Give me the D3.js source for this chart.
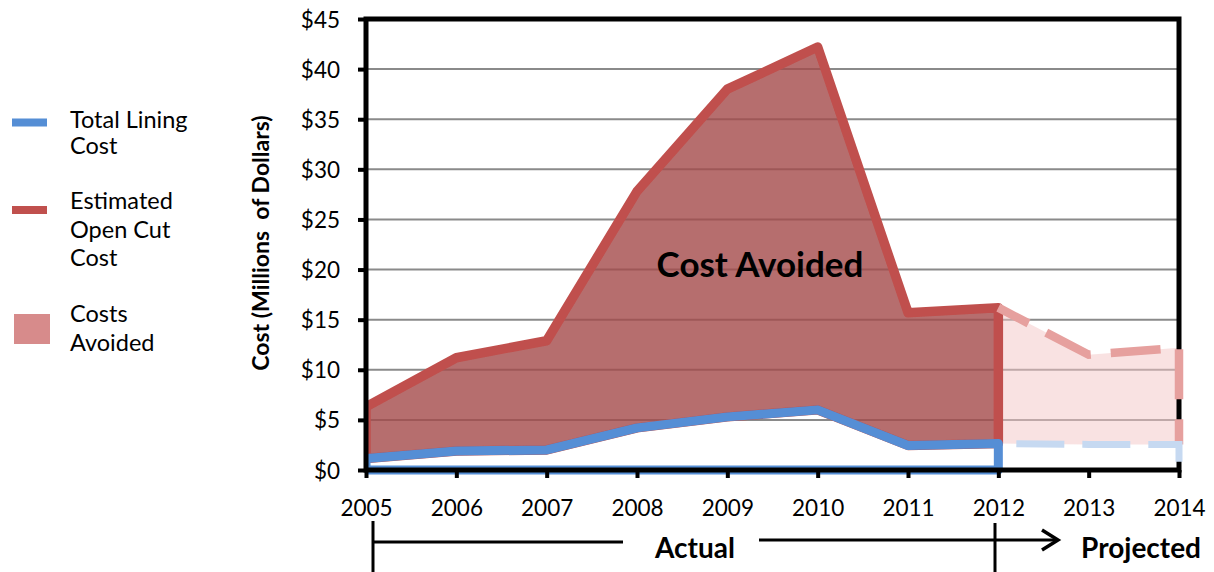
<!DOCTYPE html>
<html>
<head>
<meta charset="utf-8">
<script src="https://cdn.jsdelivr.net/npm/d3@7"></script>
<style>
  html, body { margin: 0; padding: 0; background: #fff; }
  svg { display: block; }
  text { font-family: Lato, "Open Sans", sans-serif; fill: #000; }
</style>
</head>
<body>
<svg id="chart" width="1214" height="572"></svg>
<script>
// Actual years (solid) and projected years (dashed)
const actualYears = [2005, 2006, 2007, 2008, 2009, 2010, 2011, 2012];
const liningActual = [1.15, 1.9, 2.0, 4.2, 5.3, 6.0, 2.45, 2.65];
const openCutActual = [6.3, 11.2, 12.9, 27.8, 38.0, 42.2, 15.7, 16.2];

const projectedYears = [2012, 2013, 2014];
const liningProjected = [2.65, 2.55, 2.55];
const openCutProjected = [16.2, 11.5, 12.2];

const yTicks = [0, 5, 10, 15, 20, 25, 30, 35, 40, 45];
const xTicks = [2005, 2006, 2007, 2008, 2009, 2010, 2011, 2012, 2013, 2014];

const legendItems = [
  { kind: "line", color: "#558ED5", lines: ["Total Lining", "Cost"] },
  { kind: "line", color: "#C0504D", lines: ["Estimated", "Open Cut", "Cost"] },
  { kind: "box", color: "#D78B8B", lines: ["Costs", "Avoided"] }
];

const svg = d3.select("#chart");

const plot = { left: 366, right: 1179, top: 19, bottom: 470 };
const x = d3.scaleLinear().domain([2005, 2014]).range([plot.left, plot.right]);
const y = d3.scaleLinear().domain([0, 45]).range([plot.bottom, plot.top]);

const defs = svg.append("defs");
// Clip for the actual series so nothing spills left of the value axis
defs.append("clipPath").attr("id", "plotClip")
  .append("rect")
  .attr("x", plot.left).attr("y", plot.top - 10)
  .attr("width", plot.right - plot.left + 10)
  .attr("height", plot.bottom - plot.top + 20);

// soft edge on the red outlines
const soft = defs.append("filter").attr("id", "soft")
  .attr("x", "-5%").attr("y", "-5%").attr("width", "110%").attr("height", "110%");
soft.append("feGaussianBlur").attr("stdDeviation", 0.6);

// Horizontal gridlines
svg.append("g")
  .selectAll("line")
  .data(yTicks.filter(v => v > 0 && v < 45))
  .join("line")
  .attr("x1", plot.left).attr("x2", plot.right)
  .attr("y1", d => y(d)).attr("y2", d => y(d))
  .attr("stroke", "#8a8a8a").attr("stroke-width", 2);

// Polygon between a lower and an upper series
function band(years, lower, upper) {
  const top = years.map((yr, i) => [x(yr), y(upper[i])]);
  const bottom = years.map((yr, i) => [x(yr), y(lower[i])]).reverse();
  return d3.line()(top.concat(bottom)) + "Z";
}
// Upper edge of a band plus its closing drop at the last year
function upperEdge(years, lower, upper) {
  const pts = years.map((yr, i) => [x(yr), y(upper[i])]);
  const n = years.length - 1;
  pts.push([x(years[n]), y(lower[n])]);
  return d3.line()(pts);
}
const zeros = n => new Array(n).fill(0);

// Projected band (light)
svg.append("path")
  .attr("d", band(projectedYears, liningProjected, openCutProjected))
  .attr("fill", "#F4C6C6").attr("fill-opacity", 0.5)
  .attr("stroke", "none");

// Actual cost-avoided band
const actualG = svg.append("g").attr("clip-path", "url(#plotClip)");
actualG.append("path")
  .attr("d", band(actualYears, liningActual, openCutActual))
  .attr("fill", "#A44B4B").attr("fill-opacity", 0.8)
  .attr("stroke", "#C0504D").attr("stroke-width", 9.5)
  .attr("stroke-linejoin", "round")
  .attr("filter", "url(#soft)");

// Actual lining cost outline
actualG.append("path")
  .attr("d", band(actualYears, zeros(actualYears.length), liningActual))
  .attr("fill", "none")
  .attr("stroke", "#558ED5").attr("stroke-width", 9)
  .attr("stroke-linejoin", "round");

// Text label inside the band
svg.append("text")
  .attr("x", 760).attr("y", 277)
  .attr("text-anchor", "middle")
  .attr("font-size", 35).attr("font-weight", 700)
  .text("Cost Avoided");

// Frame
svg.append("rect")
  .attr("x", plot.left).attr("y", plot.top)
  .attr("width", plot.right - plot.left).attr("height", plot.bottom - plot.top)
  .attr("fill", "none").attr("stroke", "#000").attr("stroke-width", 5);

// Axes with outward ticks
const yAxis = d3.axisLeft(y).tickValues(yTicks).tickSize(8).tickFormat(d => "$" + d);
const yG = svg.append("g").attr("transform", `translate(${plot.left},0)`).call(yAxis);
yG.select(".domain").remove();
yG.selectAll(".tick line").attr("stroke", "#000").attr("stroke-width", 4);
yG.selectAll(".tick text")
  .attr("x", -26).attr("dy", "0.36em")
  .attr("font-size", 22.5).attr("font-family", "Lato, sans-serif").attr("fill", "#000");

const xAxis = d3.axisBottom(x).tickValues(xTicks).tickSize(8).tickFormat(d3.format("d"));
const xG = svg.append("g").attr("transform", `translate(0,${plot.bottom})`).call(xAxis);
xG.select(".domain").remove();
xG.selectAll(".tick line").attr("stroke", "#000").attr("stroke-width", 4);
xG.selectAll(".tick text")
  .attr("y", 46).attr("dy", 0)
  .attr("font-size", 22.5).attr("font-family", "Lato, sans-serif").attr("fill", "#000");

// Projected outlines (dashed, drawn over the frame)
svg.append("path")
  .attr("d", upperEdge(projectedYears, liningProjected, openCutProjected))
  .attr("fill", "none")
  .attr("stroke", "#E6A09E").attr("stroke-width", 8.5)
  .attr("stroke-dasharray", "50 20").attr("stroke-dashoffset", 16)
  .attr("filter", "url(#soft)");
svg.append("path")
  .attr("d", upperEdge(projectedYears, zeros(projectedYears.length), liningProjected))
  .attr("fill", "none")
  .attr("stroke", "#C6D9F1").attr("stroke-width", 7)
  .attr("stroke-dasharray", "48 18").attr("stroke-dashoffset", 48);

// Y axis title
svg.append("text")
  .attr("transform", "translate(269,243) rotate(-90)")
  .attr("text-anchor", "middle")
  .attr("font-size", 23).attr("font-weight", 700)
  .style("white-space", "pre")
  .text("Cost (Millions  of Dollars)");

// Timeline annotation under the axis
const ann = svg.append("g").attr("stroke", "#000").attr("stroke-width", 3).attr("fill", "none");
ann.append("line").attr("x1", 373).attr("x2", 373).attr("y1", 521).attr("y2", 572);
ann.append("line").attr("x1", 373).attr("x2", 623).attr("y1", 542).attr("y2", 542);
ann.append("line").attr("x1", 995).attr("x2", 995).attr("y1", 523).attr("y2", 572);
ann.append("line").attr("x1", 759).attr("x2", 1057).attr("y1", 540).attr("y2", 540);
ann.append("polyline").attr("points", "1042,530 1058,540 1042,550").attr("stroke-width", 3.5);

svg.append("text").attr("x", 695).attr("y", 558).attr("text-anchor", "middle")
  .attr("font-size", 28).attr("font-weight", 700).text("Actual");
svg.append("text").attr("x", 1141).attr("y", 558).attr("text-anchor", "middle")
  .attr("font-size", 28).attr("font-weight", 700).text("Projected");

// Legend
const legendBase = [[128, 154], [209, 238, 266], [322, 351]];
const legendMark = [122.5, 210, 329];
const lg = svg.append("g");
legendItems.forEach((item, i) => {
  if (item.kind === "line") {
    lg.append("rect").attr("x", 12).attr("y", legendMark[i] - 4)
      .attr("width", 35).attr("height", 8).attr("fill", item.color);
  } else {
    lg.append("rect").attr("x", 14).attr("y", 314)
      .attr("width", 36).attr("height", 30).attr("fill", item.color);
  }
  item.lines.forEach((t, j) => {
    lg.append("text").attr("x", 70).attr("y", legendBase[i][j])
      .attr("font-size", 23.5).text(t);
  });
});
</script>
</body>
</html>
